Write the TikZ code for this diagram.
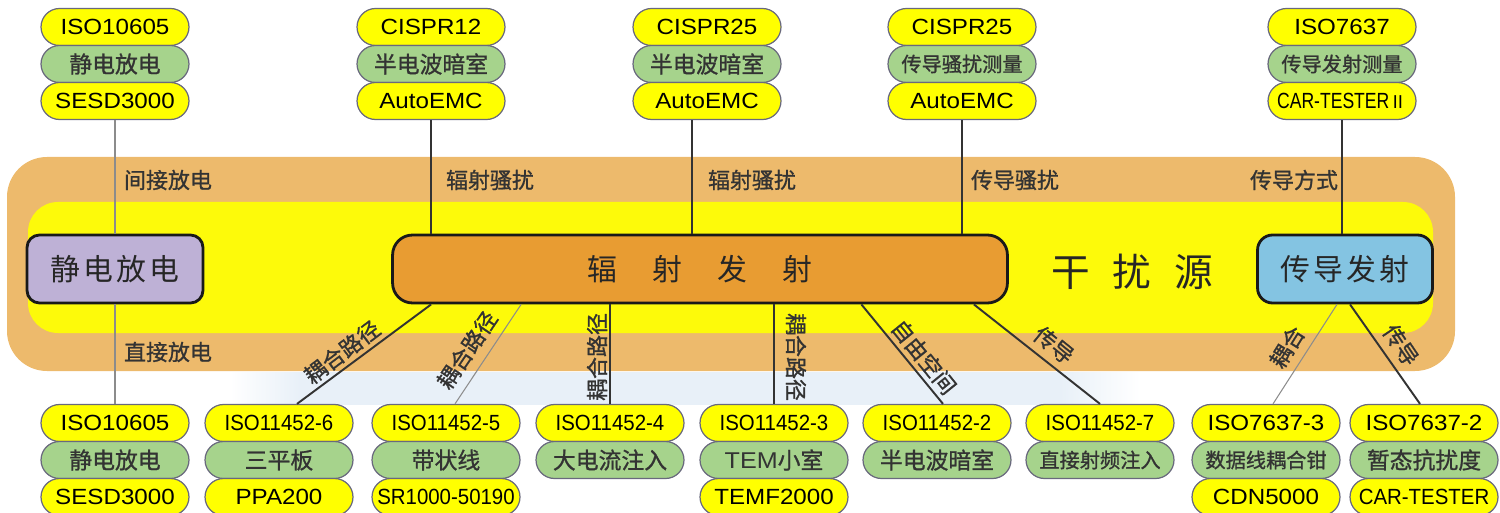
\documentclass[tikz,border=0pt]{standalone}
\usepackage{fontspec}
\setmainfont[FakeStretch=1.1]{Liberation Sans}
\newfontfamily\narrowfont[FakeStretch=0.93]{Liberation Sans}
\newfontfamily\condfont[FakeStretch=0.8]{Liberation Sans}
\newfontfamily\cjk{Noto Sans CJK SC}
\newfontfamily\cjkbold[FakeBold=1]{Noto Sans CJK SC}

\definecolor{pillyellow}{RGB}{255,255,0}
\definecolor{pillgreen}{RGB}{166,211,140}
\definecolor{pillline}{RGB}{105,105,125}
\definecolor{bandorange}{RGB}{237,186,108}
\definecolor{bandyellow}{RGB}{253,250,10}
\definecolor{esdpurple}{RGB}{190,177,214}
\definecolor{radorange}{RGB}{232,156,50}
\definecolor{condblue}{RGB}{132,196,226}
\definecolor{bgblue}{RGB}{232,240,248}

\begin{document}
\begin{tikzpicture}[
    x=0.02cm, y=-0.02cm,
    pill/.style={
        rectangle,
        rounded corners=0.37cm,
        minimum width=2.96cm,
        minimum height=0.74cm,
        inner sep=0pt,
        draw=pillline,
        line width=0.7pt,
        font=\fontsize{12.5}{14}\selectfont
    },
    yel/.style={pill, fill=pillyellow},
    grn/.style={pill, fill=pillgreen, text=black!80, font=\cjkbold\fontsize{13}{15}\selectfont},
    grnsm/.style={grn, font=\cjkbold\fontsize{11.5}{13}\selectfont},
    box/.style={
        rectangle,
        minimum height=1.36cm,
        draw=black!90,
        line width=1.6pt,
        text=black!85,
        font=\cjk\fontsize{17}{20}\selectfont
    },
    lab/.style={font=\cjkbold\fontsize{12.5}{14}\selectfont, text=black!80, inner sep=0pt},
    link/.style={draw=black!80, line width=1.1pt},
    faint/.style={draw=black!45, line width=0.6pt}
]
\useasboundingbox (0,0) rectangle (1500,513);

\fill[bandorange, rounded corners=0.8cm] (7,157) rectangle (1455,371);
\fill[bandyellow, rounded corners=0.6cm] (28,202) rectangle (1433,333);
\fill[bgblue] (300,372) rectangle (1060,405);
\shade[left color=white, right color=bgblue] (230,372) rectangle (300,405);
\shade[left color=bgblue, right color=white] (1060,372) rectangle (1140,405);

\node[box, fill=esdpurple, minimum width=3.52cm, rounded corners=0.25cm] (esd) at (115,269) {静\hspace{1.7pt}电\hspace{1.7pt}放\hspace{1.7pt}电};
\node[box, fill=radorange, minimum width=12.3cm, rounded corners=0.4cm] (rad) at (700,269) {辐\hspace{20pt}射\hspace{20pt}发\hspace{20pt}射};
\node[box, fill=condblue, minimum width=3.5cm, rounded corners=0.3cm] (cond) at (1345,269) {传\hspace{1.7pt}导\hspace{1.7pt}发\hspace{1.7pt}射};
\node[font=\cjk\fontsize{22}{26}\selectfont, text=black!85, inner sep=0pt] (src) at (1132,272) {干\hspace{13pt}扰\hspace{13pt}源};

\node[yel] (t1a) at (115,27) {ISO10605};
\node[grn] (t1b) at (115,64) {静电放电};
\node[yel] (t1c) at (115,101) {SESD3000};
\node[yel] (t2a) at (431,27) {CISPR12};
\node[grn] (t2b) at (431,64) {半电波暗室};
\node[yel] (t2c) at (431,101) {AutoEMC};
\node[yel] (t3a) at (707,27) {CISPR25};
\node[grn] (t3b) at (707,64) {半电波暗室};
\node[yel] (t3c) at (707,101) {AutoEMC};
\node[yel] (t4a) at (962,27) {CISPR25};
\node[grnsm] (t4b) at (962,64) {传导骚扰测量};
\node[yel] (t4c) at (962,101) {AutoEMC};
\node[yel] (t5a) at (1342,27) {ISO7637};
\node[grnsm] (t5b) at (1342,64) {传导发射测量};
\node[yel] (t5c) at (1342,101) {{\condfont CAR-TESTER}{\cjk\fontsize{10}{12}\selectfont Ⅱ}};

\node[yel] (b1a) at (115,423) {ISO10605};
\node[grn] (b1b) at (115,460) {静电放电};
\node[yel] (b1c) at (115,497) {SESD3000};
\node[yel] (b2a) at (279,423) {\narrowfont ISO11452-6};
\node[grn] (b2b) at (279,460) {三平板};
\node[yel] (b2c) at (279,497) {PPA200};
\node[yel] (b3a) at (446,423) {\narrowfont ISO11452-5};
\node[grn] (b3b) at (446,460) {带状线};
\node[yel] (b3c) at (446,497) {\narrowfont SR1000-50190};
\node[yel] (b4a) at (610,423) {\narrowfont ISO11452-4};
\node[grn] (b4b) at (610,460) {大电流注入};
\node[yel] (b5a) at (774,423) {\narrowfont ISO11452-3};
\node[grn] (b5b) at (774,460) {{\rmfamily TEM}小室};
\node[yel] (b5c) at (774,497) {TEMF2000};
\node[yel] (b6a) at (937,423) {\narrowfont ISO11452-2};
\node[grn] (b6b) at (937,460) {半电波暗室};
\node[yel] (b7a) at (1100,423) {\narrowfont ISO11452-7};
\node[grnsm] (b7b) at (1100,460) {直接射频注入};
\node[yel] (b8a) at (1266,423) {ISO7637-3};
\node[grnsm] (b8b) at (1266,460) {数据线耦合钳};
\node[yel] (b8c) at (1266,497) {CDN5000};
\node[yel] (b9a) at (1424,423) {ISO7637-2};
\node[grn] (b9b) at (1424,460) {暂态抗扰度};
\node[yel] (b9c) at (1424,497) {\narrowfont CAR-TESTER};

\draw[faint] (t1c) -- (esd);
\draw[faint] (esd) -- (b1a);
\draw[link] (t2c) -- (t2c |- rad.north);
\draw[link] ([xshift=-0.3cm]t3c.south) -- ([xshift=-0.3cm]t3c.south |- rad.north);
\draw[link] (t4c) -- (t4c |- rad.north);
\draw[link] (t5c) -- (t5c |- cond.north);

\draw[link] ([xshift=0.8cm]rad.south west) -- ([xshift=0.36cm]b2a.north);
\draw[faint] ([xshift=2.6cm]rad.south west) -- ([xshift=0.18cm]b3a.north);
\draw[link] (b4a.north |- rad.south) -- (b4a);
\draw[link] (b5a.north |- rad.south) -- (b5a);
\draw[link] ([xshift=-2.95cm]rad.south east) -- ([xshift=0.12cm]b6a.north);
\draw[link] ([xshift=-0.7cm]rad.south east) -- (b7a.north);
\draw[faint] ([xshift=-0.16cm]cond.south) -- ([xshift=0.14cm]b8a.north);
\draw[link] ([xshift=0.1cm]cond.south) -- ([xshift=-0.08cm]b9a.north);

\node[lab] (l-esd-up) at (168,180) {间接放电};
\node[lab] (l-rad-up1) at (490,180) {辐射骚扰};
\node[lab] (l-rad-up2) at (752,180) {辐射骚扰};
\node[lab] (l-cond-up) at (1015,180) {传导骚扰};
\node[lab] (l-cond-way) at (1294,180) {传导方式};
\node[lab] (l-esd-down) at (168,352) {直接放电};
\node[lab, rotate=37] (l-b2) at (342,352) {耦合路径};
\node[lab, rotate=56] (l-b3) at (467,350) {耦合路径};
\node[lab, rotate=90] (l-b4) at (597,357) {耦合路径};
\node[lab, rotate=-90] (l-b5) at (796,357) {耦合路径};
\node[lab, rotate=-51] (l-b6) at (924,357) {自由空间};
\node[lab, rotate=-39] (l-b7) at (1054,345) {传导};
\node[lab, rotate=58] (l-b8) at (1287,347) {耦合};
\node[lab, rotate=-56] (l-b9) at (1401,345) {传导};

\end{tikzpicture}
\end{document}
